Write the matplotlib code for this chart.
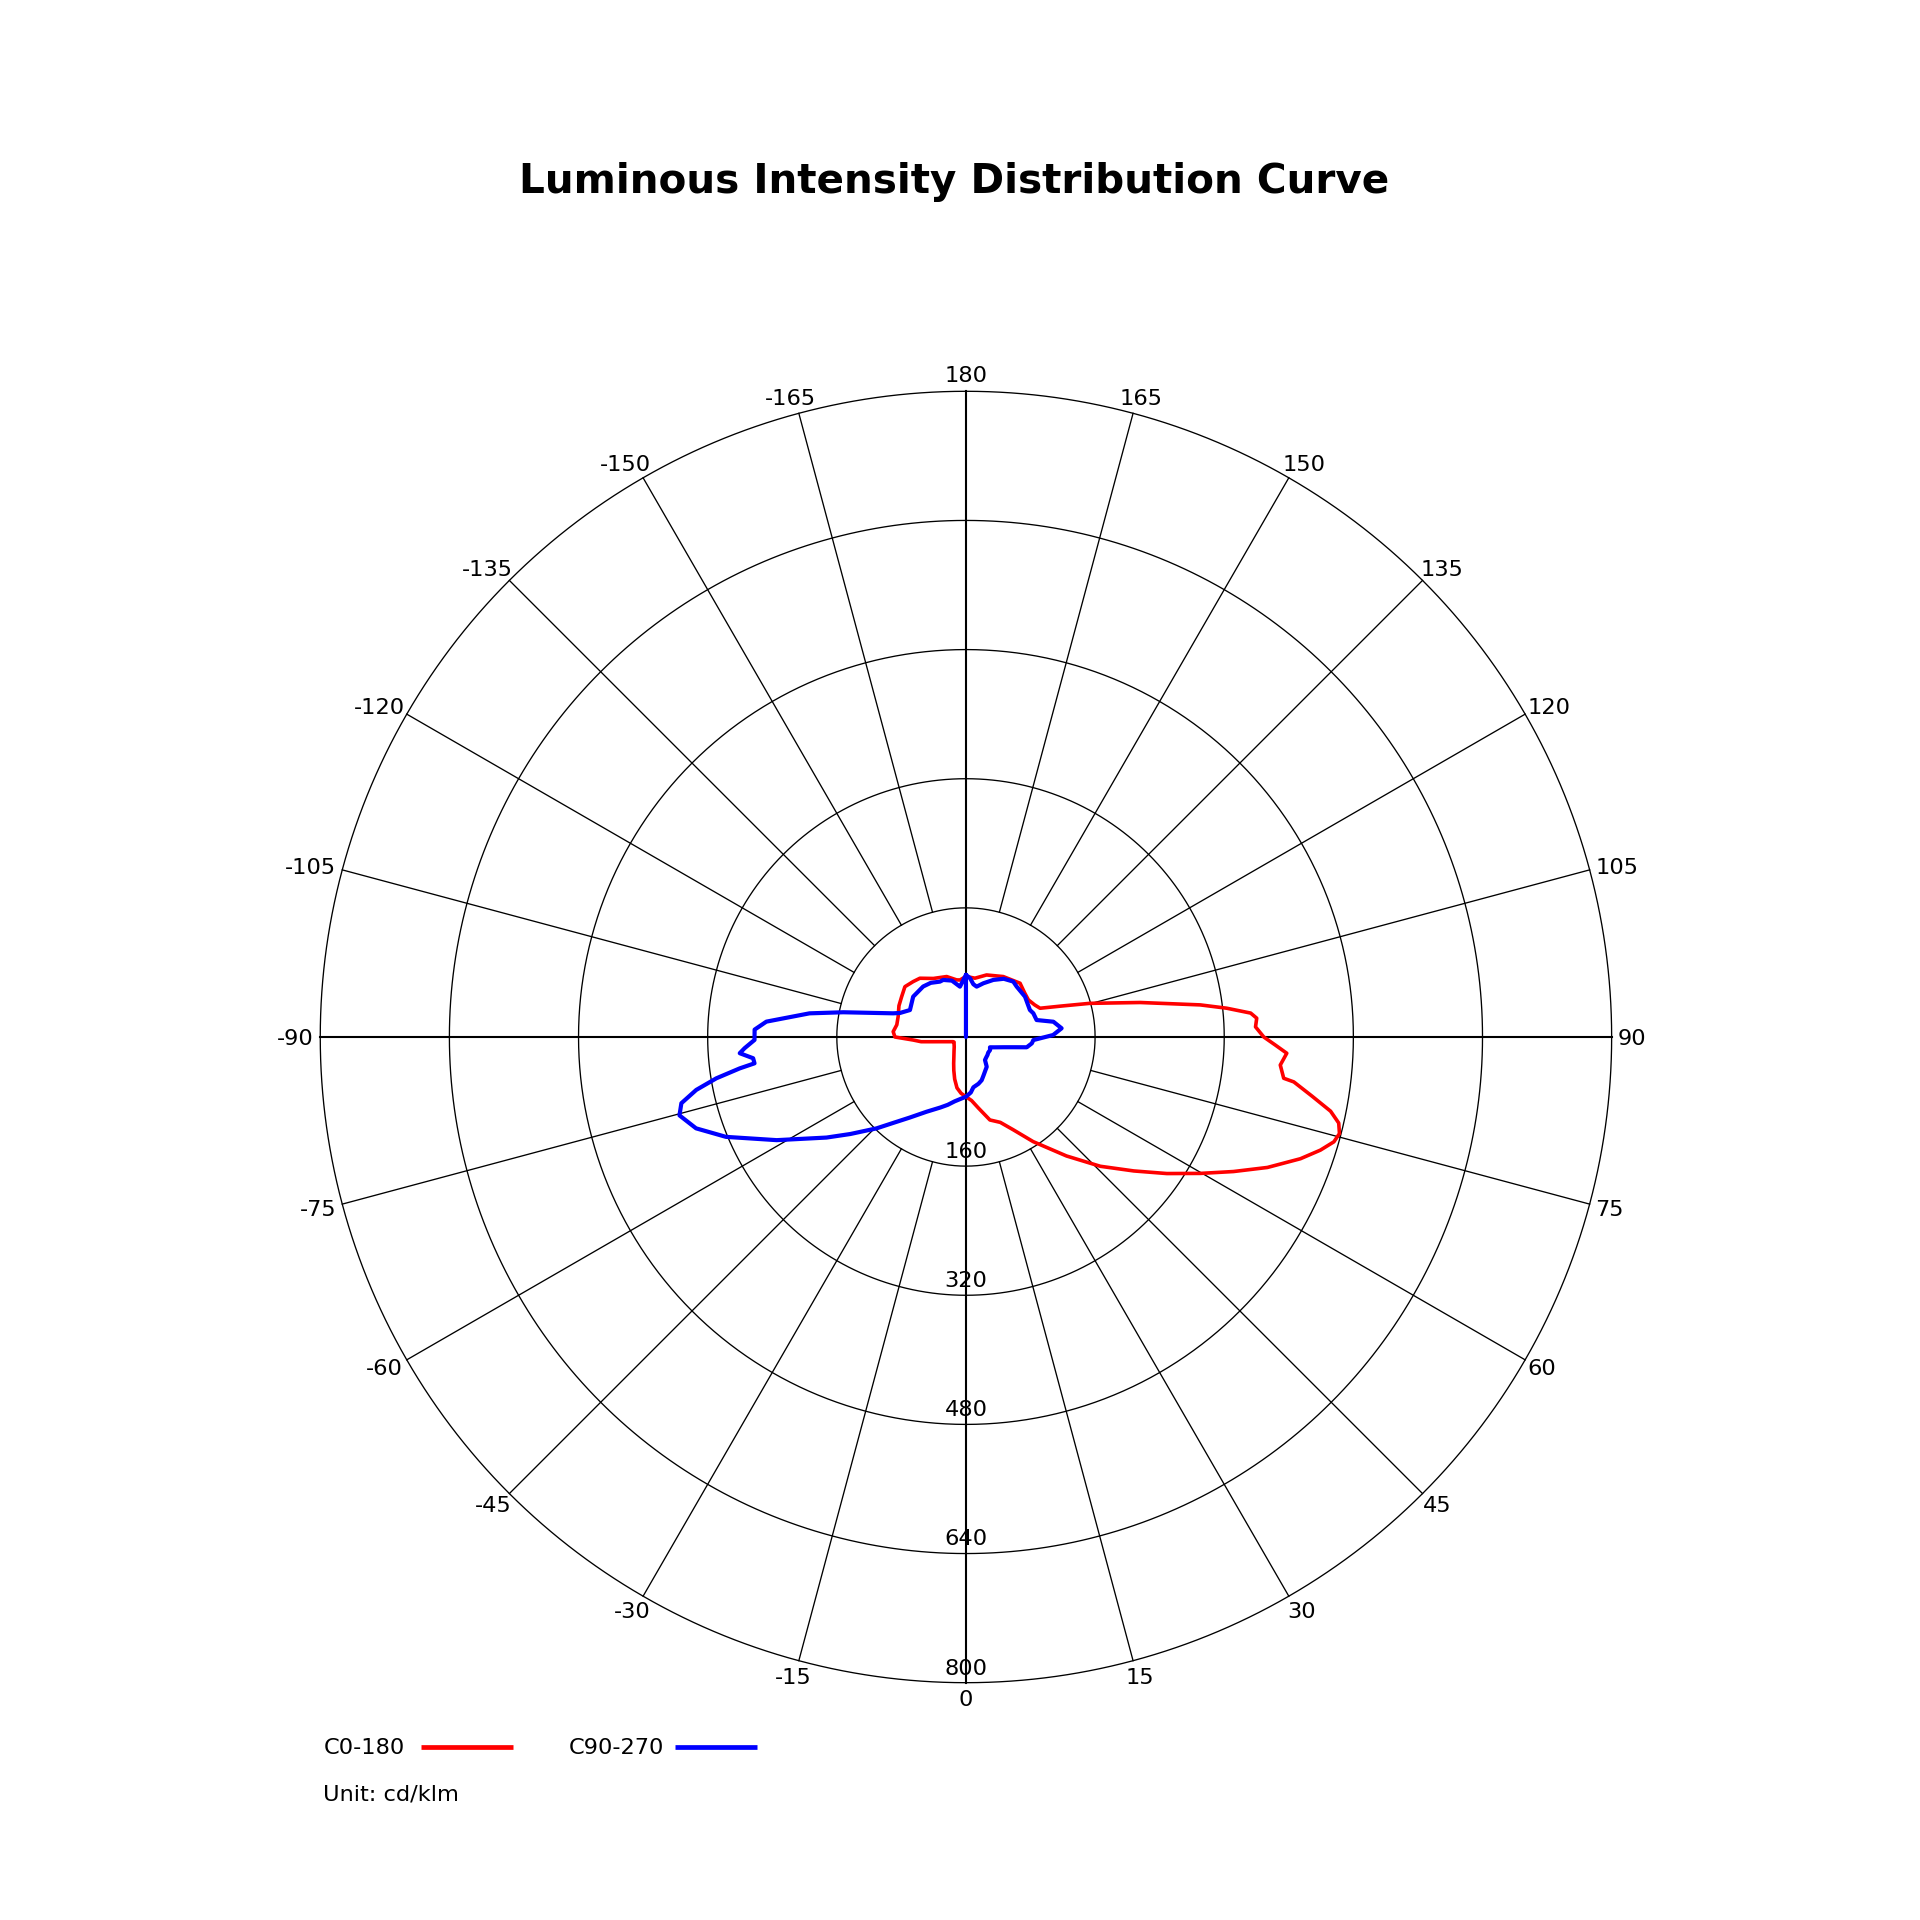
import numpy as np
import matplotlib
matplotlib.use('Agg')
import matplotlib.pyplot as plt
from matplotlib.lines import Line2D

# C0-180 curve (gamma angle in degrees, intensity in cd/klm)
red_deg = [-180, -174, -170.7, -162.3, -150.9, -141.9, -136.4, -129.5, -122, -115,
           -106.7, -100, -94.2, -90, -86.7, -84, -82, -80, -78, -75, -70, -67, -60,
           -50, -40, -30, -25, -20, -15, -10, -5,
           0, 5, 10, 16.1, 21.9, 27, 32.7, 40.2, 46.1, 51.4, 55.8, 59.8, 63.3, 66.6,
           70, 72.3, 74.1, 75.5, 77, 78.5, 80.3, 82.2, 82.6, 84.9, 87.1, 88.5, 90,
           92, 93.7, 94.8, 96.3, 97.8, 101.2, 105.2, 108, 111.2, 115, 120.7, 127,
           134.8, 148.3, 161.6, 171.3, 180]
red_val = [75, 71, 71.7, 78.6, 83, 92.5, 94.8, 98, 94, 91.6,
           87.7, 87, 90.4, 88, 65.5, 55.8, 42, 33.5, 28, 22.5, 17, 16, 17,
           19, 23, 30, 36, 44, 54, 64, 70,
           74, 79, 89.5, 107, 114, 129, 154, 193, 231, 266, 301, 336, 371, 407,
           441, 461, 474, 478, 474, 461, 435, 410, 397, 391, 398, 383.5, 369,
           359, 361, 354, 325, 293, 220, 159, 124, 98.5, 94, 90, 91,
           94.5, 88, 81, 73.7, 75]

# C90-270 curve
blue_deg = [-180, -180, -173.2, -166, -158.3, -154.8, -147, -139.7, -127.4, -115.7,
            -110, -108, -105, -101.4, -98.6, -94.4, -92, -89.2, -87.1, -85.9, -84.3,
            -82.9, -82.1, -80.6, -78.9, -76.9, -74.7, -71.3, -67.4, -61.4, -54.2,
            -50, -44.4, -40, -35, -27.8, -20, -15, -10, -5,
            0, 5, 8.4, 15, 20, 25, 30, 34.9, 39.6, 45, 50, 55, 61.6,
            66.8, 70, 75, 78, 80.4, 84.5, 87.4, 91.3, 95.2, 99.9, 103.5, 109.4,
            112.9, 124.3, 134.8, 139.5, 147, 154.4, 162, 168, 172, 176, 180]
blue_val = [0, 77, 62.8, 72, 76.1, 75.8, 80, 82, 82.3, 77,
            87, 94.9, 115, 155, 196, 248, 262, 262, 274.6, 281, 265,
            264, 283, 313.5, 340.5, 362, 368, 353, 322, 267, 213,
            187, 158.5, 138.5, 122, 104.7, 93, 87, 81, 77,
            74, 69, 63, 60, 57, 52, 48, 45, 37, 35.6, 34.8, 33.7, 34,
            32.4, 37.4, 49, 61, 76.4, 82, 83.6, 108, 119, 110, 90, 88.5,
            86, 88.6, 88.6, 90.3, 86, 78.4, 70, 63.8, 66, 73, 77]

ring_values = [160, 320, 480, 640, 800]
angle_ticks = list(range(0, 195, 15)) + list(range(-165, 0, 15))

# small nudges of the angle labels (pixels on a 1568 px view, x right / y down)
label_nudge = {0: (0, 0), 15: (2, 0), 30: (3, 0), 45: (2, 0), 60: (1, 0), 75: (2, 1),
               90: (2, 2), 105: (8, 2), 120: (7, 2), 135: (6, 2), 150: (5, 2),
               165: (3, 2), 180: (0, 2), -165: (-3, 2), -150: (-7, 2), -135: (-8, 2),
               -120: (-10, 2), -105: (-12, 2), -90: (-6, 2), -75: (-6, 1),
               -60: (-6, 0), -45: (-3, 0), -30: (-2, 0), -15: (-1, 0)}
px2pt = 1920 / 1568 * 0.72

fig = plt.figure(figsize=(19.2, 19.2), dpi=100)
ax = fig.add_axes([0.1668, 0.1236, 0.6726, 0.6726], projection='polar')
ax.set_theta_zero_location('S')
ax.set_theta_direction(1)
ax.set_ylim(0, 800)
ax.set_xticks([])
ax.set_yticks([])
ax.grid(False)
ax.spines['polar'].set_visible(False)

t = np.linspace(0, 2 * np.pi, 721)
for r in ring_values:
    ax.plot(t, np.full_like(t, r), color='black', lw=0.95, clip_on=False, zorder=1)

for a in range(0, 360, 15):
    th = np.deg2rad(a)
    if a % 90 == 0:
        ax.plot([th, th], [0, 800], color='black', lw=1.5, clip_on=False, zorder=1)
    else:
        ax.plot([th, th], [160, 800], color='black', lw=0.95, clip_on=False, zorder=1)

ax.plot(np.deg2rad(red_deg), red_val, color='#ff0000', lw=2.6, clip_on=False, zorder=3,
        solid_joinstyle='round', solid_capstyle='round')
ax.plot(np.deg2rad(blue_deg), blue_val, color='#0000ff', lw=3.0, clip_on=False, zorder=4,
        solid_joinstyle='round', solid_capstyle='round')

for a in angle_ticks:
    nx, ny = label_nudge[a]
    ax.annotate(str(a), xy=(np.deg2rad(a), 822), xytext=(nx * px2pt, -ny * px2pt),
                textcoords='offset points', ha='center', va='center', fontsize=16.2,
                annotation_clip=False)

for r in ring_values:
    ax.text(0, r - 10, str(r), ha='center', va='baseline', fontsize=16.2, clip_on=False,
            zorder=5)

fig.text(0.4972, 0.8996, 'Luminous Intensity Distribution Curve', ha='center',
         va='baseline', fontsize=29.2, fontweight='bold')

fig.text(323.3 / 1920, 1 - 1754.3 / 1920, 'C0-180', ha='left', va='baseline', fontsize=16.2)
fig.add_artist(Line2D([420.7 / 1920, 512.7 / 1920], [1 - 1746.7 / 1920] * 2,
                      color='#ff0000', lw=3.4, solid_capstyle='butt',
                      transform=fig.transFigure))
fig.text(568.3 / 1920, 1 - 1754.3 / 1920, 'C90-270', ha='left', va='baseline', fontsize=16.2)
fig.add_artist(Line2D([675 / 1920, 756.7 / 1920], [1 - 1746.7 / 1920] * 2,
                      color='#0000ff', lw=3.4, solid_capstyle='butt',
                      transform=fig.transFigure))
fig.text(323.3 / 1920, 1 - 1800 / 1920, 'Unit: cd/klm', ha='left', va='baseline', fontsize=16.2)

fig.savefig('out.png', dpi=100)
